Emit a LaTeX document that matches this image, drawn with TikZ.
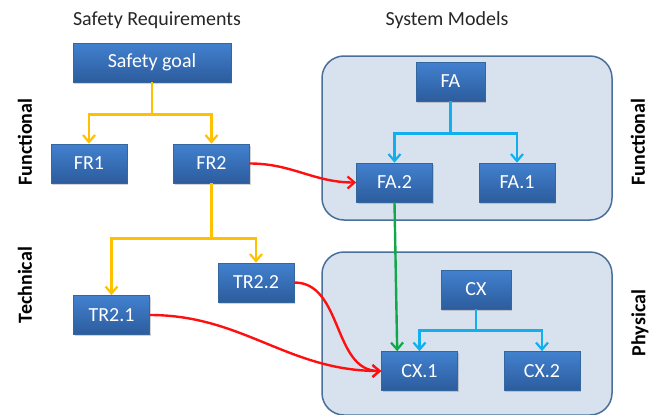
\documentclass[tikz,border=0pt]{standalone}
\usepackage{fontspec}
\setmainfont{Carlito}
\usetikzlibrary{arrows.meta,shadows,calc}
\definecolor{boxtop}{HTML}{4281CF}
\definecolor{boxbot}{HTML}{2C5C9D}
\definecolor{boxedge}{HTML}{35679F}
\definecolor{contfill}{HTML}{D8E2EF}
\definecolor{contedge}{HTML}{4A6F99}
\definecolor{yel}{HTML}{FFC000}
\definecolor{cya}{HTML}{10B0EE}
\definecolor{rd}{HTML}{FF1010}
\definecolor{grn}{HTML}{10A848}
\tikzset{
  blockbox/.style={draw=boxedge, line width=0.6pt, top color=boxtop, bottom color=boxbot,
    text=white, font=\fontsize{20}{22}\selectfont, inner sep=0pt,
    minimum width=76, minimum height=39,
    drop shadow={opacity=0.35, shadow xshift=1.2pt, shadow yshift=-1.5pt}},
  container/.style={draw=contedge, line width=1.5pt, fill=contfill, rounded corners=22pt, inner sep=0pt},
  title/.style={font=\fontsize{20}{22}\selectfont, text=black!85},
  sidelabel/.style={font=\bfseries\fontsize{20}{22}\selectfont, rotate=90},
  tip/.style={-{Straight Barb[length=7pt,width=12pt,line width=2.2pt]}},
  yarrow/.style={tip, draw=yel, line width=2.4pt},
  carrow/.style={tip, draw=cya, line width=2.4pt},
  rarrow/.style={tip, draw=rd, line width=2.4pt},
  garrow/.style={tip, draw=grn, line width=2.4pt},
}
\begin{document}
\begin{tikzpicture}[x=1pt,y=-1pt]
\useasboundingbox (0,0) rectangle (656,415);
% containers
\node[container, minimum width=290, minimum height=164] (topc) at (467,138) {};
\node[container, minimum width=290, minimum height=163] (botc) at (467,333.5) {};
% titles
\node[title] (t1) at (157,20) {Safety Requirements};
\node[title] (t2) at (447,20) {System Models};
% side labels
\node[sidelabel] (lf) at (25,142) {Functional};
\node[sidelabel] (lt) at (25,285) {Technical};
\node[sidelabel] (rf) at (638,142) {Functional};
\node[sidelabel] (rp) at (640,323) {Physical};
% boxes
\node[blockbox, minimum width=158] (sg) at (152,62.5) {Safety goal};
\node[blockbox] (fr1) at (89,163.5) {FR1};
\node[blockbox] (fr2) at (211.5,163.5) {FR2};
\node[blockbox] (tr22) at (256,282.5) {TR2.2};
\node[blockbox] (tr21) at (111.5,315) {TR2.1};
\node[blockbox, minimum width=69] (fa) at (450.5,81.5) {FA};
\node[blockbox] (fa2) at (394.5,182.5) {FA.2};
\node[blockbox] (fa1) at (517,182.5) {FA.1};
\node[blockbox, minimum width=70] (cx) at (476,289.5) {CX};
\node[blockbox] (cx1) at (419.5,371) {CX.1};
\node[blockbox] (cx2) at (542,371) {CX.2};
% yellow tree
\draw[yarrow] (sg.south) -- ++(0,32) -| (fr1.north);
\draw[yarrow] (sg.south) -- ++(0,32) -| (fr2.north);
\draw[yarrow] (fr2.south) -- ++(0,55) -| (tr21.north);
\draw[yarrow] (fr2.south) -- ++(0,55) -| (tr22.north);
% cyan trees
\draw[carrow] (fa.south) -- ++(0,32) -| (fa2.north);
\draw[carrow] (fa.south) -- ++(0,32) -| (fa1.north);
\draw[carrow] (cx.south) -- ++(0,21) -| (cx1.north);
\draw[carrow] (cx.south) -- ++(0,21) -| (cx2.north);
% green
\draw[garrow] (fa2.south) -- ($(cx1.north west)+(16,0)$);
% red
\draw[rarrow] (fr2.east) to[out=0,in=180] (fa2.west);
\draw[rarrow] (tr22.east) to[out=0,in=180] (cx1.west);
\draw[rarrow] (tr21.east) to[out=0,in=180] (cx1.west);
\end{tikzpicture}
\end{document}
